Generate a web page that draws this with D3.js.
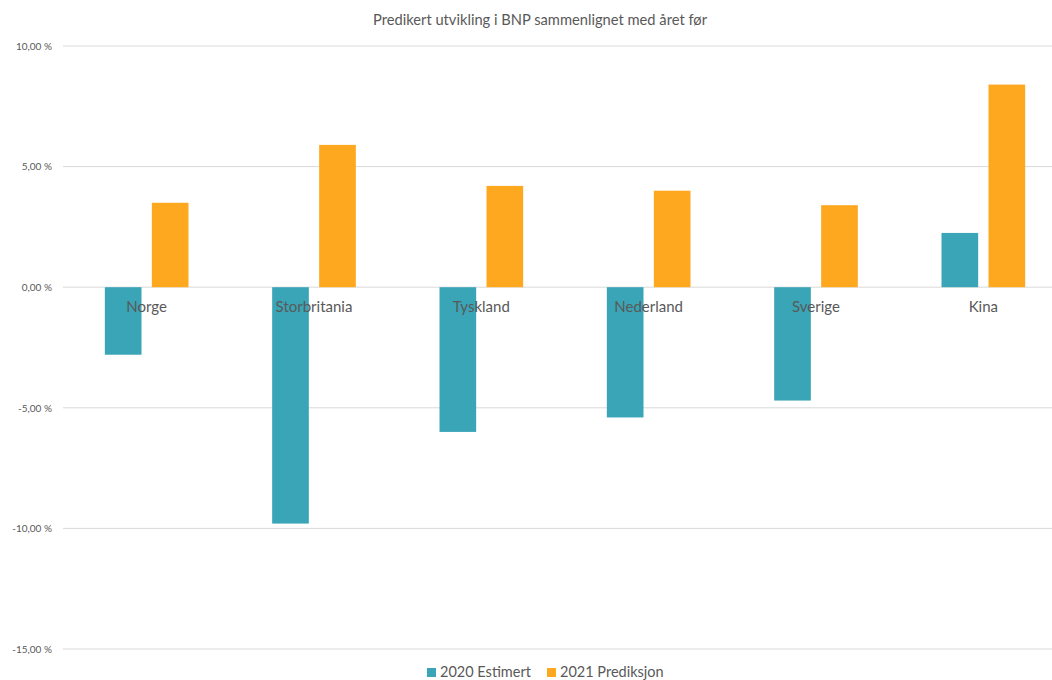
<!DOCTYPE html>
<html>
<head>
<meta charset="utf-8">
<script src="https://cdn.jsdelivr.net/npm/d3@7"></script>
<style>
  html, body { margin: 0; padding: 0; background: #fff; }
  svg { display: block; font-family: Lato, "Open Sans", sans-serif; }
</style>
</head>
<body>
<svg id="chart" width="1052" height="680"></svg>
<script>
const categories = ["Norge", "Storbritania", "Tyskland", "Nederland", "Sverige", "Kina"];
const seriesNames = ["2020 Estimert", "2021 Prediksjon"];
const estimert2020 = [-2.8, -9.8, -6.0, -5.4, -4.7, 2.25];
const prediksjon2021 = [3.5, 5.9, 4.2, 4.0, 3.4, 8.4];
const yTicks = [10, 5, 0, -5, -10, -15];
const colors = ["#3AA5B6", "#FDA81E"];
const title = "Predikert utvikling i BNP sammenlignet med året før";

(function () {
const svg = d3.select("#chart");
const mLeft = 63, mRight = 1067, mTop = 46, mBottom = 649;

const y = d3.scaleLinear().domain([-15, 10]).range([mBottom, mTop]);
const x0 = d3.scaleBand().domain(categories).range([mLeft, mRight]).padding(0);
const x1 = d3.scaleBand().domain(seriesNames)
  .range([x0.bandwidth() * 0.25, x0.bandwidth() * 0.75]).paddingInner(0.22);

const fmt = v => d3.format(".2f")(v).replace(".", ",").replace("\u2212", "-") + " %";

// gridlines
svg.append("g").selectAll("line").data(yTicks).join("line")
  .attr("x1", mLeft).attr("x2", 1052)
  .attr("y1", d => y(d)).attr("y2", d => y(d))
  .attr("stroke", "#d9d9d9").attr("stroke-width", 1);

// y labels
const yAxis = d3.axisLeft(y).tickValues(yTicks).tickSize(0).tickPadding(0).tickFormat(fmt);
const ga = svg.append("g").attr("transform", "translate(52,0)").call(yAxis);
ga.select(".domain").remove();
ga.selectAll("text").attr("fill", "#595959").style("font-size", "10px")
  .style("font-family", "Lato, sans-serif");

// bars
const data = categories.map((c, i) => ({ cat: c, vals: [estimert2020[i], prediksjon2021[i]] }));
const groups = svg.append("g").selectAll("g").data(data).join("g")
  .attr("transform", d => `translate(${x0(d.cat)},0)`);
groups.selectAll("rect").data(d => d.vals.map((v, j) => ({ s: seriesNames[j], v, j })))
  .join("rect")
  .attr("x", d => x1(d.s))
  .attr("width", x1.bandwidth())
  .attr("y", d => y(Math.max(0, d.v)))
  .attr("height", d => Math.abs(y(d.v) - y(0)))
  .attr("fill", d => colors[d.j]);

// category labels
svg.append("g").selectAll("text").data(categories).join("text")
  .attr("x", d => x0(d) + x0.bandwidth() / 2)
  .attr("y", y(0) + 25)
  .attr("text-anchor", "middle")
  .attr("fill", "#595959")
  .style("font-size", "15px")
  .text(d => d);

// title
svg.append("text").attr("x", 540).attr("y", 25)
  .attr("text-anchor", "middle").attr("fill", "#595959")
  .style("font-size", "14.7px").text(title);

// legend
const legendX = [427, 547];
const lg = svg.append("g").selectAll("g").data(seriesNames).join("g")
  .attr("transform", (d, i) => `translate(${legendX[i]},0)`);
lg.append("rect").attr("x", 0).attr("y", 668).attr("width", 9).attr("height", 9)
  .attr("fill", (d, i) => colors[i]);
lg.append("text").attr("x", 13).attr("y", 677).attr("fill", "#595959")
  .style("font-size", "14.5px").text(d => d);
})();
</script>
</body>
</html>
